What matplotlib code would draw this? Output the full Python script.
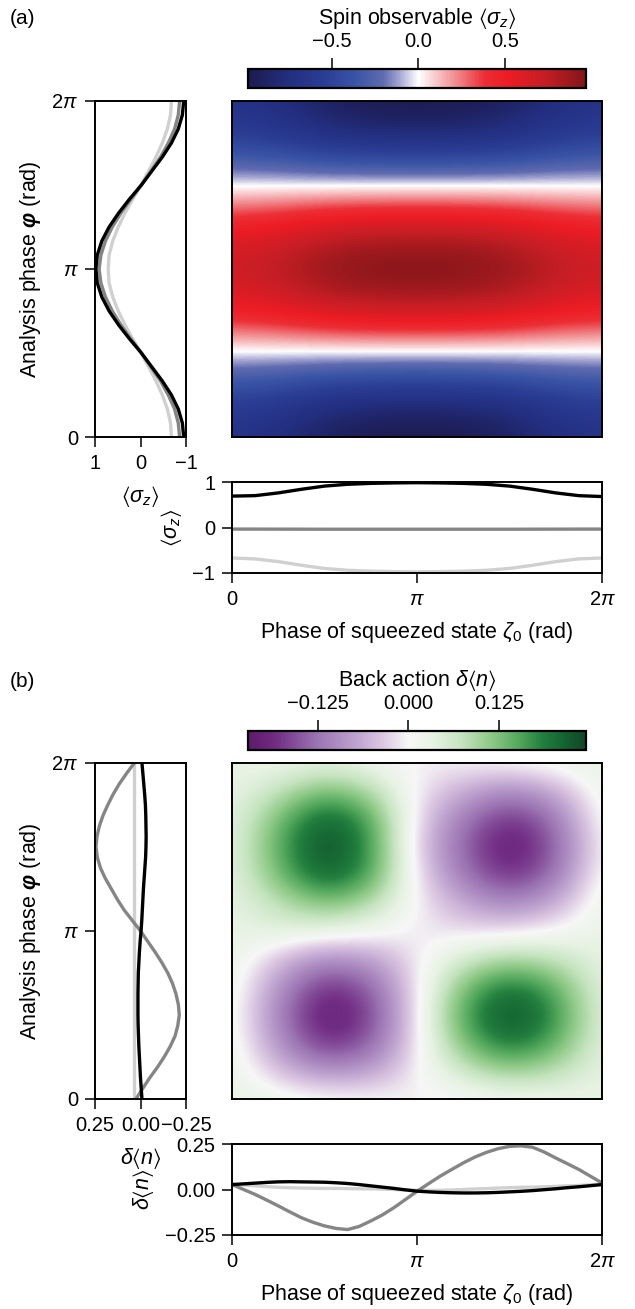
import numpy as np
import matplotlib
matplotlib.use("Agg")
import matplotlib.pyplot as plt
from matplotlib.colors import LinearSegmentedColormap

plt.rcParams['font.family'] = ['Liberation Sans', 'DejaVu Sans']
plt.rcParams['mathtext.fontset'] = 'custom'
plt.rcParams['mathtext.rm'] = 'Liberation Sans'
plt.rcParams['mathtext.it'] = 'Liberation Sans:italic'
plt.rcParams['mathtext.bf'] = 'Liberation Sans:bold:italic'
plt.rcParams['mathtext.fallback'] = 'stixsans'
plt.rcParams['axes.linewidth'] = 1.4
for ax_ in ('xtick', 'ytick'):
    plt.rcParams[f'{ax_}.major.size'] = 7
    plt.rcParams[f'{ax_}.major.width'] = 1.1
    plt.rcParams[f'{ax_}.major.pad'] = 5
    plt.rcParams[f'{ax_}.labelsize'] = 14.5

PI = np.pi
LABEL_FS = 15.5

# ---------------- data ----------------
# map grids: phi rows 0..2pi (step pi/6), zeta columns 0..2pi (step pi/4)
sz_map = [
    [-0.68, -0.76, -0.90, -0.97, -0.985, -0.97, -0.90, -0.76, -0.68],
    [-0.59, -0.66, -0.78, -0.84, -0.85, -0.84, -0.78, -0.66, -0.59],
    [-0.34, -0.38, -0.45, -0.48, -0.49, -0.48, -0.45, -0.38, -0.34],
    [-0.03, -0.03, -0.035, -0.035, -0.035, -0.035, -0.035, -0.03, -0.03],
    [0.34, 0.38, 0.45, 0.48, 0.485, 0.48, 0.45, 0.38, 0.34],
    [0.60, 0.66, 0.78, 0.83, 0.84, 0.83, 0.78, 0.66, 0.60],
    [0.69, 0.76, 0.90, 0.96, 0.97, 0.96, 0.90, 0.76, 0.69],
    [0.60, 0.66, 0.78, 0.83, 0.84, 0.83, 0.78, 0.66, 0.60],
    [0.34, 0.38, 0.45, 0.48, 0.485, 0.48, 0.45, 0.38, 0.34],
    [-0.03, -0.03, -0.035, -0.035, -0.035, -0.035, -0.035, -0.03, -0.03],
    [-0.34, -0.38, -0.45, -0.48, -0.49, -0.48, -0.45, -0.38, -0.34],
    [-0.59, -0.66, -0.78, -0.84, -0.85, -0.84, -0.78, -0.66, -0.59],
    [-0.68, -0.76, -0.90, -0.97, -0.985, -0.97, -0.90, -0.76, -0.68],
]

dn_map = [
    [0.03, 0.02, 0.012, 0.006, -0.005, 0.0, 0.01, 0.017, 0.03],
    [0.03, -0.04, -0.095, -0.075, -0.005, 0.065, 0.11, 0.08, 0.03],
    [0.03, -0.09, -0.19, -0.15, -0.008, 0.13, 0.205, 0.15, 0.033],
    [0.027, -0.11, -0.221, -0.175, -0.01, 0.16, 0.245, 0.18, 0.036],
    [0.03, -0.09, -0.19, -0.15, -0.01, 0.13, 0.205, 0.15, 0.033],
    [0.03, -0.04, -0.105, -0.08, -0.01, 0.06, 0.10, 0.075, 0.03],
    [0.03, 0.04, 0.035, 0.015, -0.009, -0.019, -0.013, 0.004, 0.027],
    [0.03, 0.075, 0.13, 0.09, -0.005, -0.065, -0.11, -0.065, 0.03],
    [0.03, 0.13, 0.225, 0.165, -0.015, -0.12, -0.19, -0.13, 0.02],
    [0.03, 0.15, 0.245, 0.18, -0.03, -0.14, -0.221, -0.15, 0.01],
    [0.03, 0.13, 0.225, 0.165, -0.02, -0.12, -0.19, -0.13, 0.02],
    [0.03, 0.07, 0.14, 0.095, -0.01, -0.06, -0.11, -0.065, 0.025],
    [0.03, 0.02, 0.034, 0.02, -0.008, 0.0, 0.01, 0.02, 0.03],
]

# (a) cuts versus phi (step pi/12) at zeta = 0, pi/2, pi
phi_a = np.linspace(0, 2 * PI, 25)
sz_phi_z0 = [-0.68, -0.66, -0.59, -0.48, -0.34, -0.18, -0.01, 0.17, 0.34, 0.49, 0.61, 0.69, 0.71,
             0.69, 0.61, 0.49, 0.34, 0.17, -0.01, -0.18, -0.34, -0.48, -0.59, -0.66, -0.68]
sz_phi_z1 = [-0.86, -0.83, -0.75, -0.61, -0.44, -0.23, -0.02, 0.21, 0.43, 0.62, 0.77, 0.87, 0.91,
             0.87, 0.77, 0.62, 0.43, 0.21, -0.02, -0.23, -0.44, -0.61, -0.75, -0.83, -0.86]
sz_phi_z2 = [-0.95, -0.92, -0.83, -0.68, -0.48, -0.25, -0.02, 0.24, 0.48, 0.69, 0.85, 0.95, 0.98,
             0.95, 0.85, 0.69, 0.48, 0.24, -0.02, -0.25, -0.48, -0.68, -0.83, -0.92, -0.95]

# (a) cuts versus zeta (step pi/8) at phi = 0, pi/2, pi
zeta_a = np.linspace(0, 2 * PI, 17)
sz_zeta_p0 = [-0.67, -0.69, -0.75, -0.83, -0.90, -0.94, -0.96, -0.97, -0.975,
              -0.97, -0.96, -0.94, -0.90, -0.83, -0.75, -0.69, -0.67]
sz_zeta_p1 = [-0.035, -0.035, -0.036, -0.037, -0.038, -0.038, -0.038, -0.038, -0.038,
              -0.038, -0.038, -0.038, -0.038, -0.037, -0.036, -0.035, -0.035]
sz_zeta_p2 = [0.69, 0.70, 0.76, 0.84, 0.91, 0.95, 0.97, 0.98, 0.985,
              0.98, 0.97, 0.95, 0.91, 0.84, 0.76, 0.70, 0.68]

# (b) cuts versus phi (step pi/16) at zeta = 0, pi/2, pi
phi_b = np.linspace(0, 2 * PI, 33)
dn_phi_z0 = [0.035] * 33
dn_phi_z1 = [0.025, -0.012, -0.05, -0.092, -0.13, -0.163, -0.19, -0.205, -0.213,
             -0.208, -0.195, -0.176, -0.15, -0.117, -0.08, -0.04, 0.0,
             0.045, 0.09, 0.127, 0.16, 0.193, 0.22, 0.237, 0.245,
             0.239, 0.226, 0.206, 0.18, 0.151, 0.117, 0.077, 0.034]
dn_phi_z2 = [-0.008, -0.004, 0.0, 0.003, 0.006, 0.009, 0.011, 0.013, 0.014,
             0.014, 0.014, 0.013, 0.012, 0.009, 0.006, 0.002, -0.003,
             -0.007, -0.01, -0.013, -0.016, -0.02, -0.024, -0.028, -0.03,
             -0.031, -0.03, -0.029, -0.027, -0.023, -0.018, -0.013, -0.008]

# (b) cuts versus zeta (step pi/16) at phi = 0, pi/2, pi
zeta_b = np.linspace(0, 2 * PI, 33)
dn_zeta_p0 = [0.03, 0.025, 0.02, 0.016, 0.012, 0.01, 0.008, 0.007, 0.006,
              0.006, 0.005, 0.004, 0.004, 0.002, 0.0, -0.003, -0.005,
              -0.005, -0.005, -0.003, 0.0, 0.003, 0.005, 0.008, 0.01,
              0.012, 0.013, 0.015, 0.017, 0.02, 0.022, 0.026, 0.03]
dn_zeta_p1 = [0.027, 0.0, -0.027, -0.058, -0.09, -0.123, -0.155, -0.18, -0.20,
              -0.214, -0.22, -0.203, -0.173, -0.14, -0.10, -0.055, -0.01,
              0.032, 0.073, 0.11, 0.146, 0.178, 0.204, 0.224, 0.237,
              0.24, 0.232, 0.206, 0.173, 0.142, 0.11, 0.073, 0.036]
dn_zeta_p2 = [0.027, 0.031, 0.035, 0.039, 0.042, 0.043, 0.042, 0.041, 0.04,
              0.037, 0.033, 0.027, 0.02, 0.013, 0.006, -0.002, -0.009,
              -0.013, -0.016, -0.018, -0.019, -0.019, -0.018, -0.016, -0.013,
              -0.01, -0.006, -0.001, 0.004, 0.01, 0.015, 0.021, 0.027]

cut_colors = ['#d0d0d0', '#858585', '#000000']

cmap_sz = LinearSegmentedColormap.from_list('sz', [
    (0.00, '#1c1a4f'), (0.12, '#232f80'), (0.22, '#2a3c94'), (0.32, '#3a55a5'),
    (0.40, '#5f6bb0'), (0.45, '#a8a9d3'), (0.504, '#ffffff'), (0.55, '#f9cfd0'),
    (0.62, '#f1868a'), (0.70, '#ec2e35'), (0.77, '#ed1c24'), (0.88, '#c41e24'),
    (1.00, '#831619')])
cmap_dn = LinearSegmentedColormap.from_list('dn', [
    (0.00, '#5e1a6d'), (0.08, '#712c83'), (0.20, '#9a72b2'), (0.32, '#bea3cf'),
    (0.40, '#dcc8e2'), (0.474, '#f7f7f7'), (0.55, '#e6f2e2'), (0.63, '#c6e4c0'),
    (0.72, '#8ec987'), (0.80, '#55a95e'), (0.87, '#24803f'), (0.93, '#156633'),
    (1.00, '#104726')])

W, H = 635, 1309
fig = plt.figure(figsize=(W / 100, H / 100), dpi=100)


def rect(x0, y0, x1, y1, shift=0):
    return [x0 / W, 1 - (y1 + shift) / H, (x1 - x0) / W, (y1 - y0) / H]


pi_ticks = [0, PI, 2 * PI]
pi_labels = ['0', r'$\pi$', r'$2\pi$']
phi_label = r'Analysis phase $\mathbf{\varphi}$ (rad)'
zeta_label = r'Phase of squeezed state $\zeta_0$ (rad)'


def panel(shift, grid, cmap, vmin, vmax, cb_ticks, cb_ticklabels, cb_label,
          phi, cuts_phi, zeta, cuts_zeta, lim, ticks, ticklabels, qlabel, tag):
    # colour map
    ax = fig.add_axes(rect(232, 101, 602, 437, shift))
    dz, dp = 2 * PI / 8, 2 * PI / 12
    im = ax.imshow(grid, origin='lower', cmap=cmap, vmin=vmin, vmax=vmax,
                   interpolation='bicubic', interpolation_stage='data', aspect='auto',
                   extent=[-dz / 2, 2 * PI + dz / 2, -dp / 2, 2 * PI + dp / 2])
    ax.set_xlim(0, 2 * PI)
    ax.set_ylim(0, 2 * PI)
    ax.set_xticks([])
    ax.set_yticks([])

    # colour bar on top
    cax = fig.add_axes(rect(248, 69, 586, 88, shift))
    cb = fig.colorbar(im, cax=cax, orientation='horizontal', ticks=cb_ticks)
    cax.xaxis.set_ticks_position('top')
    cax.xaxis.set_label_position('top')
    cb.ax.set_xticklabels(cb_ticklabels)
    cb.set_label(cb_label, fontsize=LABEL_FS, labelpad=6)
    cb.outline.set_linewidth(1.6)
    cax.tick_params(length=8, pad=5)

    # cuts versus phi
    axl = fig.add_axes(rect(95, 101, 186, 437, shift))
    for c, vals in zip(cut_colors, cuts_phi):
        axl.plot(vals, phi, color=c, lw=2.4, solid_capstyle='butt')
    axl.set_ylim(0, 2 * PI)
    axl.set_xlim(lim, -lim)
    axl.set_xticks(ticks)
    axl.set_xticklabels(ticklabels)
    axl.set_yticks(pi_ticks)
    axl.set_yticklabels(pi_labels)
    axl.set_ylabel(phi_label, fontsize=LABEL_FS, labelpad=6)
    axl.set_xlabel(qlabel, fontsize=LABEL_FS, labelpad=8)

    # cuts versus zeta
    axb = fig.add_axes(rect(232, 482, 602, 573, shift))
    for c, vals in zip(cut_colors, cuts_zeta):
        axb.plot(zeta, vals, color=c, lw=2.4, solid_capstyle='butt')
    axb.set_xlim(0, 2 * PI)
    axb.set_ylim(-lim, lim)
    axb.set_yticks(ticks[::-1])
    axb.set_yticklabels(ticklabels[::-1])
    axb.set_xticks(pi_ticks)
    axb.set_xticklabels(pi_labels)
    axb.set_ylabel(qlabel, fontsize=LABEL_FS, labelpad=6)
    axb.set_xlabel(zeta_label, fontsize=LABEL_FS, labelpad=8)

    fig.text(10 / W, 1 - (19 + shift) / H, tag, fontsize=15, va='center', ha='left')


panel(0, sz_map, cmap_sz, -0.987, 0.97, [-0.5, 0, 0.5], ['\u22120.5', '0.0', '0.5'],
      r'Spin observable $\langle\sigma_z\rangle$',
      phi_a, [sz_phi_z0, sz_phi_z1, sz_phi_z2],
      zeta_a, [sz_zeta_p0, sz_zeta_p1, sz_zeta_p2],
      1, [1, 0, -1], ['1', '0', '\u22121'], r'$\langle\sigma_z\rangle$', '(a)')

panel(662, dn_map, cmap_dn, -0.221, 0.245, [-0.125, 0, 0.125],
      ['\u22120.125', '0.000', '0.125'], r'Back action $\delta\langle n\rangle$',
      phi_b, [dn_phi_z0, dn_phi_z1, dn_phi_z2],
      zeta_b, [dn_zeta_p0, dn_zeta_p1, dn_zeta_p2],
      0.25, [0.25, 0, -0.25], ['0.25', '0.00', '\u22120.25'],
      r'$\delta\langle n\rangle$', '(b)')

fig.savefig('out.png', dpi=100)
